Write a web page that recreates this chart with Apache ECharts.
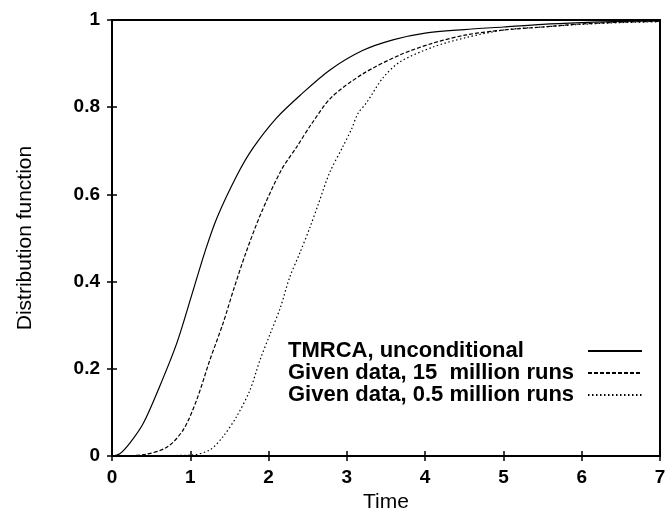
<!DOCTYPE html>
<html>
<head>
<meta charset="utf-8">
<script src="https://cdn.jsdelivr.net/npm/echarts@6/dist/echarts.min.js"></script>
<style>
  html, body { margin: 0; padding: 0; background: #fff; }
  #chart { width: 666px; height: 514px; }
</style>
</head>
<body>
<div id="chart"></div>
<script>
// values: [time, distribution function]
const seriesNames = ['TMRCA, unconditional', 'Given data, 15  million runs', 'Given data, 0.5 million runs']
const tmrca = [
  [0, 0], [0.1, 0.005], [0.23, 0.03], [0.4, 0.075], [0.61, 0.16], [0.83, 0.26],
  [1.02, 0.37], [1.19, 0.47], [1.34, 0.546], [1.6, 0.645], [1.8, 0.706], [2.1, 0.775],
  [2.42, 0.83], [2.78, 0.885], [3.2, 0.93], [3.6, 0.955], [4, 0.97], [4.5, 0.978],
  [5, 0.984], [5.5, 0.99], [6, 0.994], [6.5, 0.997], [7, 0.998]
]
const given15 = [
  [0, 0], [0.4, 0.003], [0.7, 0.02], [0.91, 0.06], [1.08, 0.128], [1.25, 0.22],
  [1.42, 0.305], [1.55, 0.38], [1.71, 0.466], [1.9, 0.555], [2.16, 0.655], [2.36, 0.709],
  [2.55, 0.762], [2.8, 0.822], [3.2, 0.876], [3.68, 0.92], [4.1, 0.947], [4.53, 0.966],
  [5, 0.977], [5.5, 0.984], [6, 0.991], [6.5, 0.995], [7, 0.997]
]
const given05 = [
  [0, 0], [1.0, 0.002], [1.25, 0.014], [1.42, 0.045], [1.59, 0.09], [1.76, 0.15],
  [1.89, 0.22], [2.02, 0.28], [2.15, 0.34], [2.27, 0.41], [2.4, 0.466], [2.53, 0.525],
  [2.64, 0.58], [2.78, 0.65], [2.95, 0.71], [3.06, 0.75], [3.14, 0.785], [3.25, 0.81],
  [3.46, 0.867], [3.68, 0.904], [4.1, 0.938], [4.53, 0.96], [5, 0.977], [5.5, 0.984],
  [6, 0.99], [6.5, 0.994], [7, 0.996]
]

const font = 'Liberation Sans, Arial, Helvetica, sans-serif'
const tickStyle = { inside: true, length: 5, lineStyle: { color: '#000', width: 1.5 } }
const labelStyle = { fontFamily: font, fontSize: 19, fontWeight: 'bold', color: '#000' }
const nameStyle = { fontFamily: font, fontSize: 21, color: '#000' }

const chart = echarts.init(document.getElementById('chart'), null, { renderer: 'canvas' })

function makeLine(name, data, type) {
  return {
    name,
    type: 'line',
    data,
    symbol: 'none',
    smooth: 0.3,
    lineStyle: { color: '#000', width: 1.2, type },
    itemStyle: { color: '#000' }
  }
}

chart.setOption({
  animation: false,
  backgroundColor: '#fff',
  grid: {
    left: 112, right: 6, top: 20, bottom: 58,
    outerBoundsMode: 'none',
    show: true, borderColor: '#000', borderWidth: 2
  },
  legend: {
    orient: 'vertical',
    left: 283,
    top: 335,
    align: 'right',
    itemWidth: 54,
    itemHeight: 14,
    itemGap: 0,
    selectedMode: false,
    itemStyle: { opacity: 0 },
    formatter: name => '{a|' + name + '}',
    textStyle: {
      fontFamily: font, fontSize: 22, fontWeight: 'bold', color: '#000',
      rich: { a: { width: 295, align: 'left', lineHeight: 22, fontFamily: font, fontSize: 22, fontWeight: 'bold', color: '#000' } }
    },
    data: seriesNames
  },
  xAxis: [
    {
      type: 'value', min: 0, max: 7, interval: 1,
      name: 'Time', nameLocation: 'middle', nameGap: 34,
      nameTextStyle: nameStyle,
      axisLine: { lineStyle: { color: '#000', width: 2 } },
      axisTick: tickStyle,
      axisLabel: Object.assign({ margin: 12 }, labelStyle),
      splitLine: { show: false }
    },
    {
      type: 'value', min: 0, max: 7, interval: 1, position: 'top',
      axisLine: { show: false }, axisTick: tickStyle, axisLabel: { show: false }, splitLine: { show: false }
    }
  ],
  yAxis: [
    {
      type: 'value', min: 0, max: 1, interval: 0.2,
      name: 'Distribution function', nameLocation: 'middle', nameGap: 76,
      nameTextStyle: nameStyle,
      axisLine: { lineStyle: { color: '#000', width: 2 } },
      axisTick: tickStyle,
      axisLabel: Object.assign({ margin: 12, formatter: v => String(Math.round(v * 10) / 10) }, labelStyle),
      splitLine: { show: false }
    },
    {
      type: 'value', min: 0, max: 1, interval: 0.2, position: 'right',
      axisLine: { show: false }, axisTick: tickStyle, axisLabel: { show: false }, splitLine: { show: false }
    }
  ],
  series: [
    makeLine(seriesNames[0], tmrca, 'solid'),
    makeLine(seriesNames[1], given15, [4, 2]),
    makeLine(seriesNames[2], given05, [1.5, 2.5])
  ]
})
</script>
</body>
</html>
